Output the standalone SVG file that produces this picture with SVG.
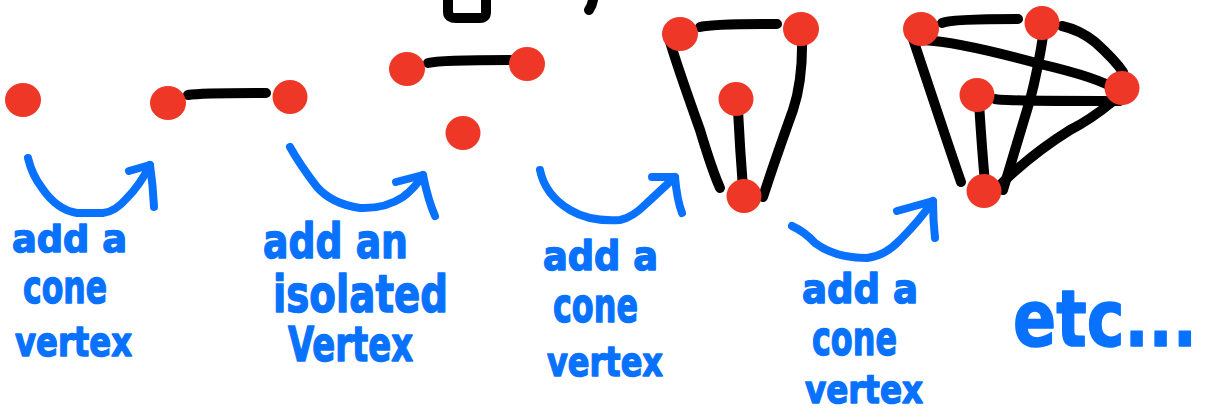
<svg xmlns="http://www.w3.org/2000/svg" width="1207" height="409" viewBox="0 0 1207 409">
  <style>
    .v { fill: #EE3726; }
    .e { fill: none; stroke: #000; stroke-width: 10; stroke-linecap: round; stroke-linejoin: round; }
    .arr { fill: none; stroke: #0872FF; stroke-width: 8; stroke-linecap: round; stroke-linejoin: round; }
    .lbl { font-family: "DejaVu Sans", "Liberation Sans", sans-serif; font-weight: bold; fill: #0872FF;
           stroke: #0872FF; stroke-width: 1.5; stroke-linejoin: round; }
  </style>
  <rect width="1207" height="409" fill="#fff"/>

  <!-- marks running off the top edge -->
  <g id="top-marks">
    <path class="e" d="M448,0 L448,12 Q448,18 456,18 L480,18 Q486,18 486,12 L486,0"/>
    <path class="e" d="M589,10 Q592,6 593,0"/>
  </g>

  <!-- edges between vertices -->
  <g id="connectors">
    <!-- stage 2 -->
    <path class="e" d="M188,95 Q200,93 266,93"/>
    <!-- stage 3 -->
    <path class="e" d="M428,63 Q440,60 510,60"/>
    <!-- stage 4 -->
    <path class="e" d="M700,27 Q710,24 777,24"/>
    <path class="e" d="M668,35 Q675,60 700,130 Q712,170 720,188"/>
    <path class="e" d="M738,110 Q740,150 743,188"/>
    <path class="e" d="M802,37 Q803,80 793,110 Q775,160 763,197"/>
    <!-- stage 5 -->
    <path class="e" d="M942,23 Q950,19 1018,19"/>
    <path class="e" d="M910,30 Q920,60 940,120 Q955,165 961,182"/>
    <path class="e" d="M923,40 Q960,42 1040,64 Q1100,78 1117,90"/>
    <path class="e" d="M1062,26 Q1080,30 1095,42 Q1115,60 1123,72"/>
    <path class="e" d="M1044,30 Q1038,70 1030,100 Q1015,150 1003,190"/>
    <path class="e" d="M995,99 Q1000,101 1120,101"/>
    <path class="e" d="M979,103 Q982,150 985,183"/>
    <path class="e" d="M1112,102 Q1090,120 1070,130 Q1030,155 998,187"/>
  </g>

  <!-- vertices -->
  <g id="stage1">
    <ellipse class="v" cx="23" cy="100" rx="18" ry="17"/>
  </g>
  <g id="stage2">
    <ellipse class="v" cx="168" cy="103" rx="18" ry="17"/>
    <ellipse class="v" cx="290" cy="97" rx="17.5" ry="17"/>
  </g>
  <g id="stage3">
    <ellipse class="v" cx="407" cy="69" rx="18" ry="17"/>
    <ellipse class="v" cx="527" cy="64" rx="18" ry="17"/>
    <ellipse class="v" cx="463" cy="133" rx="17.5" ry="17"/>
  </g>
  <g id="stage4">
    <ellipse class="v" cx="680" cy="34" rx="18" ry="17"/>
    <ellipse class="v" cx="801" cy="29" rx="18" ry="17"/>
    <ellipse class="v" cx="736" cy="99" rx="17.5" ry="17"/>
    <ellipse class="v" cx="744" cy="196" rx="17.5" ry="17"/>
  </g>
  <g id="stage5">
    <ellipse class="v" cx="921" cy="29" rx="18" ry="17"/>
    <ellipse class="v" cx="1042" cy="23" rx="17.5" ry="17"/>
    <ellipse class="v" cx="1122" cy="88" rx="17.5" ry="17"/>
    <ellipse class="v" cx="977" cy="95" rx="17.5" ry="17"/>
    <ellipse class="v" cx="984" cy="191" rx="17.5" ry="17"/>
  </g>

  <!-- transition arrows -->
  <g id="arrows">
    <path class="arr" d="M28,158 Q32,175 42,188 Q57,210 77,213 L103,213 Q115,212 127,198 Q140,185 150,165"/>
    <path class="arr" d="M129,171 L150,165 Q153,185 154,207"/>

    <path class="arr" d="M290,147 Q300,165 317,187 Q332,204 360,208 Q385,209 403,197 Q415,188 423,175"/>
    <path class="arr" d="M396,182 L423,175 Q428,200 435,216"/>

    <path class="arr" d="M540,170 Q545,195 570,210 Q590,222 620,220 Q632,218 647,203 L675,177"/>
    <path class="arr" d="M652,177 L675,177 Q677,200 682,213"/>

    <path class="arr" d="M792,226 Q805,232 815,243 Q835,258 867,258 Q885,256 900,240 Q920,220 933,201"/>
    <path class="arr" d="M897,211 L933,201 Q933,220 935,238"/>
  </g>

  <!-- labels -->
  <g id="labels">
    <text class="lbl" x="12" y="252" font-size="38" textLength="115" lengthAdjust="spacingAndGlyphs">add a</text>
    <text class="lbl" x="23" y="303" font-size="46" textLength="84" lengthAdjust="spacingAndGlyphs">cone</text>
    <text class="lbl" x="15" y="356" font-size="40" textLength="117" lengthAdjust="spacingAndGlyphs">vertex</text>

    <text class="lbl" x="263" y="258" font-size="48" textLength="145" lengthAdjust="spacingAndGlyphs">add an</text>
    <text class="lbl" x="273" y="312" font-size="52" textLength="175" lengthAdjust="spacingAndGlyphs">isolated</text>
    <text class="lbl" x="288" y="361" font-size="48" textLength="125" lengthAdjust="spacingAndGlyphs">Vertex</text>

    <text class="lbl" x="543" y="270" font-size="40" textLength="115" lengthAdjust="spacingAndGlyphs">add a</text>
    <text class="lbl" x="553" y="322" font-size="48" textLength="85" lengthAdjust="spacingAndGlyphs">cone</text>
    <text class="lbl" x="547" y="376" font-size="41" textLength="116" lengthAdjust="spacingAndGlyphs">vertex</text>

    <text class="lbl" x="802" y="303" font-size="40" textLength="116" lengthAdjust="spacingAndGlyphs">add a</text>
    <text class="lbl" x="812" y="355" font-size="48" textLength="85" lengthAdjust="spacingAndGlyphs">cone</text>
    <text class="lbl" x="805" y="403" font-size="39" textLength="118" lengthAdjust="spacingAndGlyphs">vertex</text>

    <text class="lbl" x="1013" y="346" font-size="78" textLength="184" lengthAdjust="spacingAndGlyphs">etc...</text>
  </g>
</svg>
